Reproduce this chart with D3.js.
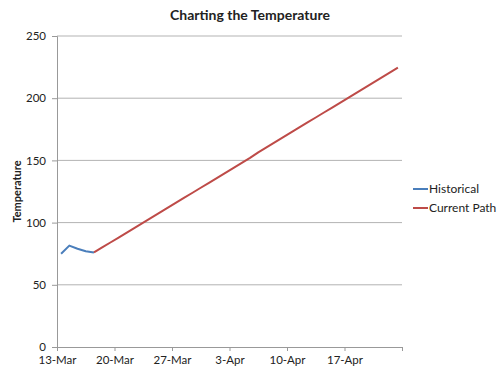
<!DOCTYPE html>
<html>
<head>
<meta charset="utf-8">
<script src="https://cdn.jsdelivr.net/npm/d3@7"></script>
<style>
  body { margin: 0; background: #fff; }
  svg text { font-family: Lato, "Open Sans", sans-serif; fill: #222; }
</style>
</head>
<body>
<div id="chart"></div>
<script>
// Charting the Temperature - line chart, historical vs current path

const YEAR = 2012;

// Historical readings
const histDays = ["13-Mar", "14-Mar", "15-Mar", "16-Mar", "17-Mar"];
const histValues = [75, 81.5, 79, 77, 76];

// Current path (projected)
const pathDays = [
  "17-Mar", "18-Mar", "19-Mar", "20-Mar", "21-Mar", "22-Mar", "23-Mar", "24-Mar",
  "25-Mar", "26-Mar", "27-Mar", "28-Mar", "29-Mar", "30-Mar", "31-Mar", "1-Apr",
  "2-Apr", "3-Apr", "4-Apr", "5-Apr", "6-Apr", "7-Apr", "8-Apr", "9-Apr",
  "10-Apr", "11-Apr", "12-Apr", "13-Apr", "14-Apr", "15-Apr", "16-Apr", "17-Apr",
  "18-Apr", "19-Apr", "20-Apr", "21-Apr", "22-Apr", "23-Apr"
];
const pathValues = [
  76, 80, 84, 88, 92, 96, 100, 104,
  108, 112, 116, 120, 124, 128, 132, 136,
  140, 144, 148, 152, 156.5, 160.5, 164.5, 168.5,
  172.5, 176.5, 180.5, 184.5, 188.5, 192.5, 196.5, 200.5,
  204.5, 208.5, 212.5, 216.5, 220.5, 224.5
];

const xTickLabels = ["13-Mar", "20-Mar", "27-Mar", "3-Apr", "10-Apr", "17-Apr", "24-Apr"];
const yTicks = [0, 50, 100, 150, 200, 250];

const seriesNames = ["Historical", "Current Path"];
const seriesColors = ["#4a7ebb", "#be4b48"];

const W = 500, H = 375;
const margin = { top: 36, right: 98, bottom: 28, left: 57 };
const innerW = W - margin.left - margin.right;
const innerH = H - margin.top - margin.bottom;

const parseDay = d3.timeParse("%d-%b-%Y");
const toDate = s => parseDay(s + "-" + YEAR);
const fmt = d3.timeFormat("%-d-%b");

const svg = d3.select("#chart").append("svg")
  .attr("width", W)
  .attr("height", H);

const g = svg.append("g")
  .attr("transform", `translate(${margin.left},${margin.top})`);

const x = d3.scaleTime()
  .domain([toDate(xTickLabels[0]), toDate(xTickLabels[xTickLabels.length - 1])])
  .range([0, innerW]);

const y = d3.scaleLinear()
  .domain([0, 250])
  .range([innerH, 0]);

// points sit in the middle of each day
const xMid = s => x(d3.timeHour.offset(toDate(s), 12));

// gridlines
g.append("g")
  .selectAll("line")
  .data(yTicks.slice(1))
  .enter()
  .append("line")
  .attr("x1", 0)
  .attr("x2", innerW)
  .attr("y1", d => y(d))
  .attr("y2", d => y(d))
  .attr("stroke", "#b3b3b3")
  .attr("stroke-width", 1);

// y axis
const yAxis = g.append("g")
  .call(d3.axisLeft(y).tickValues(yTicks).tickSize(5).tickPadding(6));
yAxis.selectAll("text").attr("font-size", 11.5);
yAxis.select(".domain").attr("stroke", "#999");
yAxis.selectAll(".tick line").attr("stroke", "#999");

// x axis
const xAxis = g.append("g")
  .attr("transform", `translate(0,${innerH})`)
  .call(d3.axisBottom(x)
    .tickValues(xTickLabels.map(toDate))
    .tickSize(4)
    .tickSizeOuter(0)
    .tickPadding(5)
    .tickFormat((d, i) => i === xTickLabels.length - 1 ? "" : fmt(d)));
xAxis.selectAll("text").attr("font-size", 11.5);
xAxis.select(".domain").attr("stroke", "#999");
xAxis.selectAll(".tick line").attr("stroke", "#999");

// lines
const line = d3.line()
  .x(d => xMid(d.day))
  .y(d => y(d.value));

const hist = histDays.map((d, i) => ({ day: d, value: histValues[i] }));
const path = pathDays.map((d, i) => ({ day: d, value: pathValues[i] }));

[hist, path].forEach((data, i) => {
  g.append("path")
    .datum(data)
    .attr("fill", "none")
    .attr("stroke", seriesColors[i])
    .attr("stroke-width", 2)
    .attr("stroke-linejoin", "round")
    .attr("d", line);
});

// title
svg.append("text")
  .attr("x", 250)
  .attr("y", 20)
  .attr("text-anchor", "middle")
  .attr("font-size", 14)
  .attr("font-weight", "700")
  .text("Charting the Temperature");

// y axis title
svg.append("text")
  .attr("transform", `translate(21,${margin.top + innerH / 2}) rotate(-90)`)
  .attr("text-anchor", "middle")
  .attr("font-size", 11)
  .attr("font-weight", "700")
  .text("Temperature");

// legend
const legend = svg.append("g")
  .attr("transform", "translate(413,189)");

seriesNames.forEach((name, i) => {
  const row = legend.append("g").attr("transform", `translate(0,${i * 19})`);
  row.append("line")
    .attr("x1", 0).attr("x2", 15)
    .attr("y1", 0).attr("y2", 0)
    .attr("stroke", seriesColors[i])
    .attr("stroke-width", 2);
  row.append("text")
    .attr("x", 16)
    .attr("y", 4)
    .attr("font-size", 12)
    .text(name);
});
</script>
</body>
</html>
